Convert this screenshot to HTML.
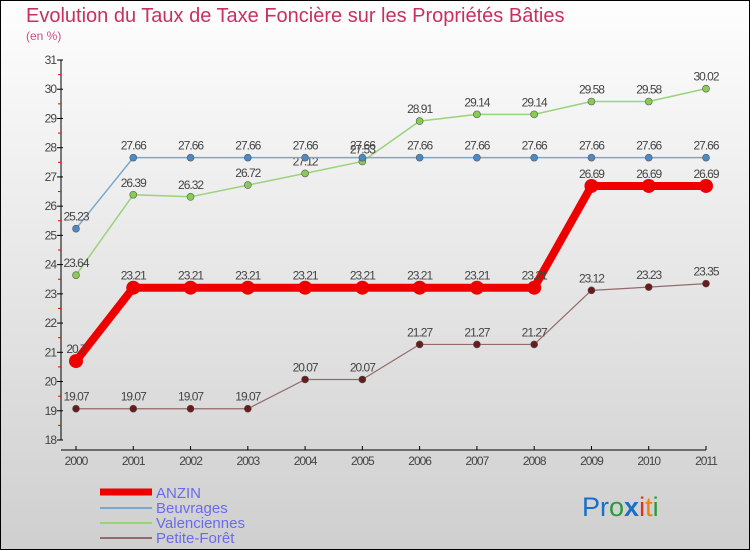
<!DOCTYPE html>
<html><head><meta charset="utf-8"><style>
body{margin:0}
svg{display:block;font-family:"Liberation Sans",sans-serif}
</style></head><body>
<svg id="c" width="750" height="550" viewBox="0 0 750 550">
<defs><linearGradient id="bg" x1="0" y1="0" x2="0" y2="1"><stop offset="0" stop-color="#fefefe"/><stop offset="1" stop-color="#cfcfcf"/></linearGradient></defs>
<rect x="0.5" y="0.5" width="749" height="549" fill="url(#bg)" stroke="#000"/>
<text x="26" y="22" font-size="20" fill="#c8305e">Evolution du Taux de Taxe Foncière sur les Propriétés Bâties</text>
<text x="26" y="40" font-size="12" fill="#c8507e">(en %)</text>
<g id="axes"></g><g id="series"></g>
<g>
<line x1="100" y1="492" x2="152" y2="492" stroke="#e00" stroke-width="7"/>
<text x="156" y="498" font-size="15" fill="#6a6aee">ANZIN</text>
<line x1="100" y1="508" x2="152" y2="508" stroke="#7aa8cc" stroke-width="2"/>
<text x="156" y="513" font-size="15" fill="#6a6aee">Beuvrages</text>
<line x1="100" y1="523" x2="152" y2="523" stroke="#99d37a" stroke-width="2"/>
<text x="156" y="528" font-size="15" fill="#6a6aee">Valenciennes</text>
<line x1="100" y1="538" x2="152" y2="538" stroke="#946a6a" stroke-width="2"/>
<text x="156" y="543" font-size="15" fill="#6a6aee">Petite-Forêt</text>
</g>
<text x="582" y="516" font-size="27"><tspan fill="#1a6fc8">Pr</tspan><tspan fill="#2a9a3a">o</tspan><tspan fill="#1a6fc8" font-weight="bold">x</tspan><tspan fill="#e03020">i</tspan><tspan fill="#f08010">t</tspan><tspan fill="#2a9a3a">i</tspan></text>
</svg>
<script>
const years=["2000","2001","2002","2003","2004","2005","2006","2007","2008","2009","2010","2011"];
const yTicks=[18,19,20,21,22,23,24,25,26,27,28,29,30,31];
const anzin=[20.7,23.21,23.21,23.21,23.21,23.21,23.21,23.21,23.21,26.69,26.69,26.69];
const beuvrages=[25.23,27.66,27.66,27.66,27.66,27.66,27.66,27.66,27.66,27.66,27.66,27.66];
const valenciennes=[23.64,26.39,26.32,26.72,27.12,27.53,28.91,29.14,29.14,29.58,29.58,30.02];
const petiteForet=[19.07,19.07,19.07,19.07,20.07,20.07,21.27,21.27,21.27,23.12,23.23,23.35];
const NS="http://www.w3.org/2000/svg";
const X=i=>76+i*(630/11), Y=v=>440-(v-18)*(380/13);
function mk(p,t,a){const e=document.createElementNS(NS,t);for(const k in a)e.setAttribute(k,a[k]);p.appendChild(e);return e;}
const ax=document.getElementById('axes');
let l=mk(ax,'line',{x1:61,y1:60,x2:61,y2:440,stroke:'#000'});


l=mk(ax,'line',{x1:61,y1:450,x2:706,y2:450,stroke:'#000'});


yTicks.forEach((v,i)=>{
 const y=Y(v);
 mk(ax,'line',{x1:57,y1:y,x2:63,y2:y,stroke:'#000'});
 if(i<yTicks.length-1)mk(ax,'line',{x1:58,y1:Y(v+0.5),x2:61,y2:Y(v+0.5),stroke:'#e00'});
 const t=mk(ax,'text',{x:56,y:y+4,'font-size':12,fill:'#444','text-anchor':'end','letter-spacing':'-1'});
 t.textContent=v;
 
 
});
years.forEach((yr,i)=>{
 mk(ax,'line',{x1:X(i),y1:446,x2:X(i),y2:450,stroke:'#000'});
 const t=mk(ax,'text',{x:X(i),y:465,'font-size':12,fill:'#444','text-anchor':'middle','letter-spacing':'-1'});
 t.textContent=yr;
 
 
});
const sg=document.getElementById('series');
function series(vals,color,w,r,name,fill){
 const g=mk(sg,'g',{});
 
 
 mk(g,'polyline',{points:vals.map((v,i)=>X(i)+','+Y(v)).join(' '),fill:'none',stroke:color,'stroke-width':w,'stroke-linejoin':'round'});
 vals.forEach((v,i)=>{
  const c=mk(g,'circle',{cx:X(i),cy:Y(v),r:r,fill:fill,stroke:'#555','stroke-width':r>5?0:0.6});
  
  
  const t=mk(g,'text',{x:X(i),y:Y(v)-8,'font-size':12,fill:'#444','text-anchor':'middle','letter-spacing':'-1'});
  t.textContent=String(v);
  
  
 });
}
series(petiteForet,'#946a6a',1.2,3.5,'petite-foret','#6a1a1a');
series(valenciennes,'#99d37a',1.5,3.5,'valenciennes','#88cc55');
series(beuvrages,'#7aa8cc',1.5,3.5,'beuvrages','#4a8ac8');
series(anzin,'#ee0000',8,7,'anzin','#ee0000');
</script>
</body></html>
